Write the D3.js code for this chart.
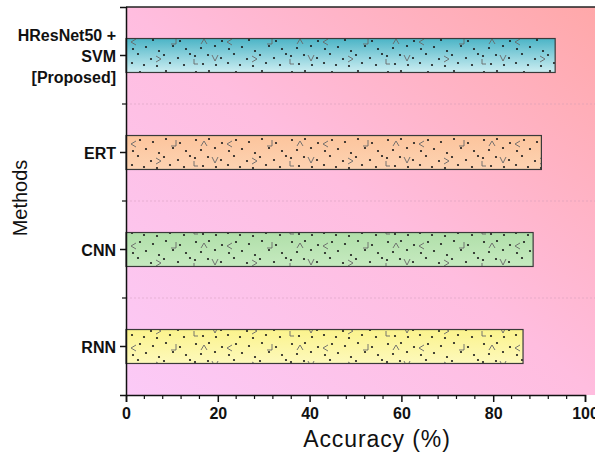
<!DOCTYPE html>
<html>
<head>
<meta charset="utf-8">
<script src="https://cdn.jsdelivr.net/npm/d3@7"></script>
<style>
  body { margin: 0; background: #fff; }
  svg { display: block; font-family: "Liberation Sans", Arial, sans-serif; }
</style>
</head>
<body>
<svg id="chart" width="595" height="458"></svg>
<script>
const methods = ['HResNet50 + SVM [Proposed]', 'ERT', 'CNN', 'RNN']
const methodLines = [['HResNet50 +', 'SVM', '[Proposed]'], ['ERT'], ['CNN'], ['RNN']]
const accuracy = [93.5, 90.5, 88.7, 86.5]
const barTop = ['#4bb4c6', '#fcc49c', '#b0dfa9', '#fbf38c']
const barBottom = ['#cdeef2', '#fdd3b2', '#c6eac0', '#fdf9bc']
const xTicks = [0, 20, 40, 60, 80, 100]

const svg = d3.select('#chart')
const margin = { left: 126, top: 7, right: 10, bottom: 63 }
const plotW = 585 - margin.left
const plotH = 458 - margin.top - margin.bottom

const x = d3.scaleLinear().domain([0, 100]).range([margin.left, margin.left + plotW])
const y = d3.scaleBand().domain(methods).range([margin.top, margin.top + plotH]).paddingInner(0.65).paddingOuter(0.325)
const yFull = d3.scaleBand().domain(methods).range([margin.top, margin.top + plotH])

const defs = svg.append('defs')

const bg = defs.append('linearGradient').attr('id', 'bg')
  .attr('x1', '0').attr('y1', '1').attr('x2', '1').attr('y2', '0')
bg.append('stop').attr('offset', '0').attr('stop-color', '#fbcaf7')
bg.append('stop').attr('offset', '0.5').attr('stop-color', '#ffbddf')
bg.append('stop').attr('offset', '1').attr('stop-color', '#ffa8a9')

methods.forEach((m, i) => {
  const g = defs.append('linearGradient').attr('id', `bar${i}`)
    .attr('x1', '0').attr('y1', '0').attr('x2', '0').attr('y2', '1')
  g.append('stop').attr('offset', '0').attr('stop-color', barTop[i])
  g.append('stop').attr('offset', '1').attr('stop-color', barBottom[i])
})

// dots + sparse chevrons pattern
const pat = defs.append('pattern').attr('id', 'dots')
  .attr('patternUnits', 'userSpaceOnUse').attr('width', 96).attr('height', 34)
const dotPts = [[4,4],[17,3],[30,7],[44,4],[57,6],[70,3],[84,7],
  [9,14],[23,12],[37,15],[50,13],[63,17],[77,12],[90,15],
  [3,22],[16,21],[29,24],[42,20],[55,25],[68,21],[82,24],[94,20],
  [11,30],[24,31],[36,29],[48,31],[61,32],[74,29],[88,31]]
pat.selectAll('circle').data(dotPts).join('circle')
  .attr('cx', d => d[0]).attr('cy', d => d[1]).attr('r', 1.1).attr('fill', '#1a1a1a')
const chevrons = ['M9,10 L12,5 L15,10', 'M40,5 L35,8 L40,11', 'M20,21 L23,27 L26,21', 'M60,22 L65,25 L60,28', 'M80,4 L80,10 L75,10', 'M2,25 L2,30 L6,30']
pat.selectAll('path').data(chevrons).join('path')
  .attr('d', d => d).attr('fill', 'none').attr('stroke', '#666').attr('stroke-width', 0.9)

// plot background
svg.append('rect')
  .attr('x', margin.left).attr('y', margin.top)
  .attr('width', 595 - margin.left).attr('height', plotH)
  .attr('fill', 'url(#bg)')

// faint dashed separators between categories
methods.slice(1).forEach(m => {
  svg.append('line')
    .attr('x1', margin.left).attr('x2', 595)
    .attr('y1', yFull(m)).attr('y2', yFull(m))
    .attr('stroke', '#c99ab6').attr('stroke-width', 0.7).attr('stroke-dasharray', '2,2')
    .attr('opacity', 0.6)
})

// bars
const bars = svg.append('g')
bars.selectAll('rect.fill').data(methods).join('rect')
  .attr('x', x(0)).attr('y', d => y(d))
  .attr('width', (d, i) => x(accuracy[i]) - x(0)).attr('height', y.bandwidth())
  .attr('fill', (d, i) => `url(#bar${i})`)
bars.selectAll('rect.pat').data(methods).join('rect')
  .attr('x', x(0)).attr('y', d => y(d))
  .attr('width', (d, i) => x(accuracy[i]) - x(0)).attr('height', y.bandwidth())
  .attr('fill', 'url(#dots)')
  .attr('stroke', '#3a3a3a').attr('stroke-width', 1.2)

// top frame line
svg.append('line').attr('x1', margin.left).attr('x2', 595)
  .attr('y1', margin.top).attr('y2', margin.top)
  .attr('stroke', '#222').attr('stroke-width', 1.5)

// x axis
const xAxisY = margin.top + plotH
const xAxis = svg.append('g').attr('transform', `translate(0,${xAxisY})`)
  .call(d3.axisBottom(x).tickValues(xTicks).tickSize(7).tickPadding(6).tickFormat(d3.format('d')))
xAxis.select('.domain').attr('stroke', '#111').attr('stroke-width', 1.5)
xAxis.selectAll('.tick line').attr('stroke', '#111').attr('stroke-width', 1.5)
xAxis.selectAll('.tick text').attr('font-size', 16).attr('font-weight', 'bold').attr('fill', '#111')
svg.append('g').attr('transform', `translate(0,${xAxisY})`)
  .selectAll('line').data(d3.range(4, 100, 4).filter(v => v % 20 !== 0)).join('line')
  .attr('x1', d => x(d)).attr('x2', d => x(d)).attr('y1', 0).attr('y2', 4)
  .attr('stroke', '#111').attr('stroke-width', 1.2)

// y axis
const yAxis = svg.append('g').attr('transform', `translate(${margin.left},0)`)
  .call(d3.axisLeft(y).tickSize(6).tickFormat(''))
yAxis.select('.domain').attr('stroke', '#111').attr('stroke-width', 1.5)
yAxis.selectAll('.tick line').attr('stroke', '#111').attr('stroke-width', 1.5)
svg.append('g').selectAll('line').data(methods.slice(1)).join('line')
  .attr('x1', margin.left - 4).attr('x2', margin.left)
  .attr('y1', d => yFull(d)).attr('y2', d => yFull(d))
  .attr('stroke', '#111').attr('stroke-width', 1.2)

// category labels
methods.forEach((m, i) => {
  const lines = methodLines[i]
  const cy = y(m) + y.bandwidth() / 2
  const t = svg.append('text')
    .attr('text-anchor', 'end').attr('font-size', 16).attr('font-weight', 'bold').attr('fill', '#111')
  lines.forEach((ln, j) => {
    t.append('tspan').attr('x', margin.left - 10)
      .attr('y', cy + 6 + (j - (lines.length - 1) / 2) * 21)
      .text(ln)
  })
})

// axis titles
svg.append('text').attr('x', 377).attr('y', 447)
  .attr('text-anchor', 'middle').attr('font-size', 23).attr('letter-spacing', 0.9).attr('fill', '#111')
  .text('Accuracy (%)')
svg.append('text')
  .attr('transform', `translate(27,${margin.top + plotH / 2 - 3}) rotate(-90)`)
  .attr('text-anchor', 'middle').attr('font-size', 20).attr('fill', '#111')
  .text('Methods')
</script>
</body>
</html>
